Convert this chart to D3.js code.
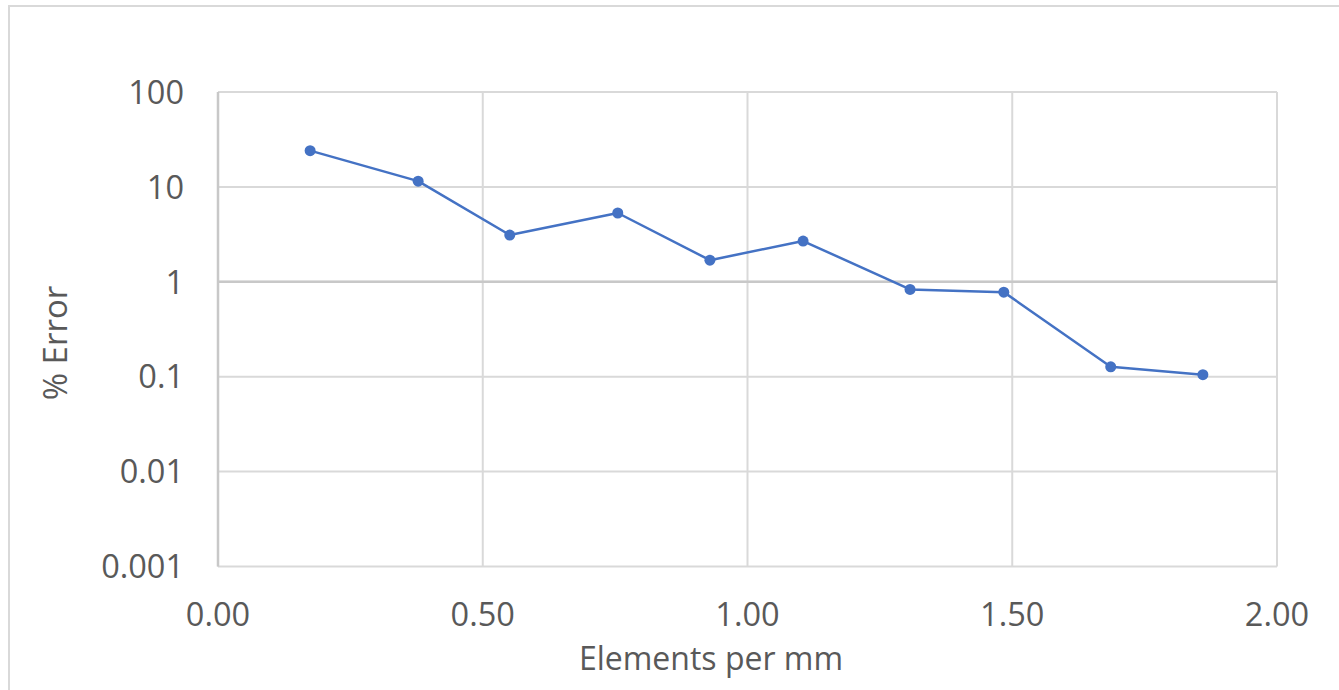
<!DOCTYPE html>
<html><head><meta charset="utf-8">
<script src="https://cdn.jsdelivr.net/npm/d3@7"></script>
<style>body{margin:0;background:#fff}svg{display:block}text{font-family:"Open Sans",sans-serif;fill:#595959}</style>
</head><body>
<svg id="c" width="1339" height="690"></svg>
<script>
const elementsPerMm = [0.174, 0.378, 0.551, 0.755, 0.929, 1.105, 1.307, 1.484, 1.686, 1.860];
const percentError = [24.1, 11.5, 3.11, 5.31, 1.69, 2.69, 0.832, 0.778, 0.127, 0.105];
const xTicks = [0, 0.5, 1, 1.5, 2];
const yTicks = [0.001, 0.01, 0.1, 1, 10, 100];
const yTickLabels = ["0.001", "0.01", "0.1", "1", "10", "100"];

const svg = d3.select("#c");
const m = {l: 218, t: 92, r: 1277, b: 566.5};
const x = d3.scaleLinear().domain([0, 2]).range([m.l, m.r]);
const y = d3.scaleLog().domain([0.001, 100]).range([m.b, m.t]);

// outer border
svg.append("rect").attr("x", 9).attr("y", 6).attr("width", 1345).attr("height", 700)
  .attr("fill", "none").attr("stroke", "#d9d9d9").attr("stroke-width", 2);

// gridlines
svg.append("g").selectAll("line").data(yTicks).join("line")
  .attr("x1", m.l).attr("x2", m.r).attr("y1", d => y(d)).attr("y2", d => y(d))
  .attr("stroke", "#d9d9d9").attr("stroke-width", 2);
svg.append("g").selectAll("line").data(xTicks).join("line")
  .attr("x1", d => x(d)).attr("x2", d => x(d)).attr("y1", m.t).attr("y2", m.b)
  .attr("stroke", "#d9d9d9").attr("stroke-width", 2);

// axis lines (y-axis at left, x-axis crossing at 1)
svg.append("line").attr("x1", m.l).attr("x2", m.l).attr("y1", m.t).attr("y2", m.b)
  .attr("stroke", "#c8c8c8").attr("stroke-width", 2.5);
svg.append("line").attr("x1", m.l).attr("x2", m.r).attr("y1", y(1)).attr("y2", y(1))
  .attr("stroke", "#c8c8c8").attr("stroke-width", 2.5);

// y tick labels
svg.append("g").selectAll("text").data(yTicks).join("text")
  .attr("x", 184).attr("y", d => y(d)).attr("dy", "0.36em")
  .attr("text-anchor", "end").attr("font-size", 32.5)
  .text((d, i) => yTickLabels[i]);

// x tick labels
svg.append("g").selectAll("text").data(xTicks).join("text")
  .attr("x", d => x(d)).attr("y", 626)
  .attr("text-anchor", "middle").attr("font-size", 32.5)
  .text(d => d3.format(".2f")(d));

// axis titles
svg.append("text").attr("x", 711).attr("y", 670).attr("text-anchor", "middle")
  .attr("font-size", 32).text("Elements per mm");
svg.append("text").attr("transform", "translate(67,343) rotate(-90)")
  .attr("text-anchor", "middle").attr("font-size", 33).text("% Error");

// series
const pts = elementsPerMm.map((v, i) => [v, percentError[i]]);
svg.append("path").datum(pts)
  .attr("d", d3.line().x(d => x(d[0])).y(d => y(d[1])))
  .attr("fill", "none").attr("stroke", "#4472C4").attr("stroke-width", 2.5)
  .attr("stroke-linejoin", "round");
svg.append("g").selectAll("circle").data(pts).join("circle")
  .attr("cx", d => x(d[0])).attr("cy", d => y(d[1])).attr("r", 5.5)
  .attr("fill", "#4472C4");
</script>
</body></html>
